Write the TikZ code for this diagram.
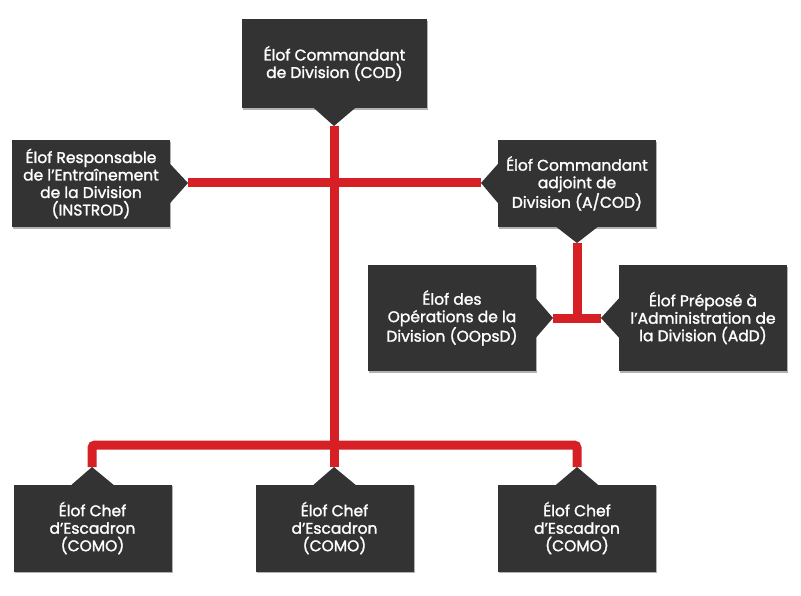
\documentclass[tikz,border=0pt]{standalone}
\usepackage{fontspec}
\setmainfont{Poppins}[FakeBold=1.6]
\usetikzlibrary{shadows}
\definecolor{boxgray}{HTML}{333333}
\definecolor{linered}{HTML}{D71F26}
\begin{document}
\begin{tikzpicture}[x=1pt,y=-1pt,
  orgbox/.style={fill=boxgray, text=white, align=center, inner sep=0pt,
    font=\fontsize{15.5}{17.5}\selectfont,
    drop shadow={shadow xshift=1.2pt, shadow yshift=-1.6pt, opacity=0.3, fill=black}},
  wide/.style={minimum width=158pt, minimum height=87pt},
  tipfill/.style={fill=boxgray},
  link/.style={draw=linered, line width=9pt}]
\useasboundingbox (0,0) rectangle (801,596);

% tips and junctions
\coordinate (codtip) at (334,126);
\coordinate (instip) at (188,183);
\coordinate (acodl) at (481,183);
\coordinate (acodb) at (577,243);
\coordinate (oopstip) at (553,318);
\coordinate (addtip) at (601,318);
\coordinate (hub) at (334,445);
\coordinate (c1tip) at (92,467);
\coordinate (c2tip) at (334,467);
\coordinate (c3tip) at (577,467);

% connectors
\draw[link] (codtip) -- (c2tip);
\draw[link] (instip) -- (acodl);
\draw[link, rounded corners=3pt] (c1tip) -- (c1tip |- hub) -- (c3tip |- hub) -- (c3tip);
\draw[link] (acodb) -- (acodb |- oopstip);
\draw[link] (oopstip) -- (addtip);

% boxes
\node[orgbox, minimum width=185pt, minimum height=89pt] (cod) at (334.5,63.5)
  {Élof Commandant\\de Division (COD)};
\node[orgbox, wide] (ins) at (91,183.5)
  {Élof Responsable\\de l’Entraînement\\de la Division\\(INSTROD)};
\node[orgbox, wide] (acod) at (577,183.5)
  {Élof Commandant\\adjoint de\\Division (A/COD)};
\node[orgbox, minimum width=168pt, minimum height=106pt] (oops) at (452,318)
  {Élof des\\Opérations de la\\Division (OOpsD)};
\node[orgbox, minimum width=168pt, minimum height=106pt] (add) at (703,318)
  {Élof Préposé à\\l’Administration de\\la Division (AdD)};
\node[orgbox, wide] (c1) at (92.5,528) {Élof Chef\\d’Escadron\\(COMO)};
\node[orgbox, wide] (c2) at (334.5,528) {Élof Chef\\d’Escadron\\(COMO)};
\node[orgbox, wide] (c3) at (577,528) {Élof Chef\\d’Escadron\\(COMO)};

% pointer triangles
\fill[tipfill] ([xshift=-21pt,yshift=0.5pt]cod.south) -- (codtip) -- ([xshift=21pt,yshift=0.5pt]cod.south) -- cycle;
\fill[tipfill] ([yshift=20pt,xshift=-0.5pt]ins.east) -- (instip) -- ([yshift=-20pt,xshift=-0.5pt]ins.east) -- cycle;
\fill[tipfill] ([yshift=20pt,xshift=0.5pt]acod.west) -- (acodl) -- ([yshift=-20pt,xshift=0.5pt]acod.west) -- cycle;
\fill[tipfill] ([xshift=-21pt,yshift=0.5pt]acod.south) -- (acodb) -- ([xshift=21pt,yshift=0.5pt]acod.south) -- cycle;
\fill[tipfill] ([yshift=20pt,xshift=-0.5pt]oops.east) -- (oopstip) -- ([yshift=-20pt,xshift=-0.5pt]oops.east) -- cycle;
\fill[tipfill] ([yshift=20pt,xshift=0.5pt]add.west) -- (addtip) -- ([yshift=-20pt,xshift=0.5pt]add.west) -- cycle;
\fill[tipfill] ([xshift=-21pt,yshift=-0.5pt]c1.north) -- (c1tip) -- ([xshift=21pt,yshift=-0.5pt]c1.north) -- cycle;
\fill[tipfill] ([xshift=-21pt,yshift=-0.5pt]c2.north) -- (c2tip) -- ([xshift=21pt,yshift=-0.5pt]c2.north) -- cycle;
\fill[tipfill] ([xshift=-21pt,yshift=-0.5pt]c3.north) -- (c3tip) -- ([xshift=21pt,yshift=-0.5pt]c3.north) -- cycle;
\end{tikzpicture}
\end{document}
